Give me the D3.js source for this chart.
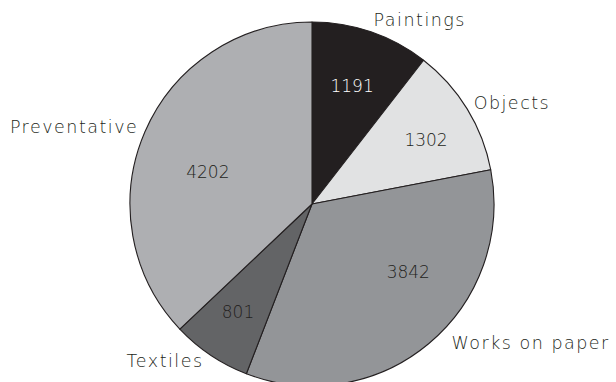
<!DOCTYPE html>
<html>
<head>
<meta charset="utf-8">
<script src="https://cdn.jsdelivr.net/npm/d3@7"></script>
<style>
  html, body { margin: 0; padding: 0; background: #ffffff; }
  svg { display: block; }
</style>
</head>
<body>
<svg id="chart" width="616" height="382"></svg>
<script>
// Conservation work by category
const categories = ["Paintings", "Objects", "Works on paper", "Textiles", "Preventative"];
const values = [1191, 1302, 3842, 801, 4202];
const colors = ["#231f20", "#e1e2e3", "#939598", "#636466", "#aeafb2"];
const valueTextColors = ["#ffffff", "#231f20", "#231f20", "#231f20", "#231f20"];

// Label placement (polar offsets from the pie centre: angle in degrees clockwise from 12 o'clock, distance in px)
const valueLabelPolar = [[18.7, 125], [60.5, 131], [125.3, 118], [214.4, 131], [287.1, 109]];
const nameLabelPolar = [[30.4, 213], [63.2, 224], [122.4, 259], [223.1, 215], [-72.1, 250]];

const width = 616, height = 382;
const cx = 312, cy = 204, radius = 182;
const svg = d3.select("#chart");
const g = svg.append("g").attr("transform", `translate(${cx},${cy})`);

const data = categories.map((c, i) => ({ name: c, value: values[i], color: colors[i], textColor: valueTextColors[i] }));

const pie = d3.pie().value(d => d.value).sort(null);
const arc = d3.arc().innerRadius(0).outerRadius(radius);
const arcs = pie(data);

g.selectAll("path.slice")
  .data(arcs)
  .join("path")
  .attr("class", "slice")
  .attr("d", arc)
  .attr("fill", d => d.data.color)
  .attr("stroke", "#231f20")
  .attr("stroke-width", 1.1)
  .attr("stroke-linejoin", "round");

function polar(p) {
  const a = p[0] * Math.PI / 180;
  return [Math.sin(a) * p[1], -Math.cos(a) * p[1]];
}

const font = "'DejaVu Sans', 'Open Sans', sans-serif";

g.selectAll("text.value")
  .data(arcs)
  .join("text")
  .attr("class", "value")
  .attr("x", (d, i) => polar(valueLabelPolar[i])[0])
  .attr("y", (d, i) => polar(valueLabelPolar[i])[1])
  .attr("text-anchor", "middle")
  .attr("dominant-baseline", "central")
  .attr("font-family", font)
  .attr("font-weight", 200)
  .attr("font-size", 17)
  .attr("fill", d => d.data.textColor)
  .text(d => d.data.value);

g.selectAll("text.name")
  .data(arcs)
  .join("text")
  .attr("class", "name")
  .attr("x", (d, i) => polar(nameLabelPolar[i])[0])
  .attr("y", (d, i) => polar(nameLabelPolar[i])[1])
  .attr("text-anchor", "middle")
  .attr("dominant-baseline", "central")
  .attr("font-family", font)
  .attr("font-weight", 200)
  .attr("font-size", 17.5)
  .attr("letter-spacing", 1.5)
  .attr("fill", "#231f20")
  .text(d => d.data.name);
</script>
</body>
</html>
